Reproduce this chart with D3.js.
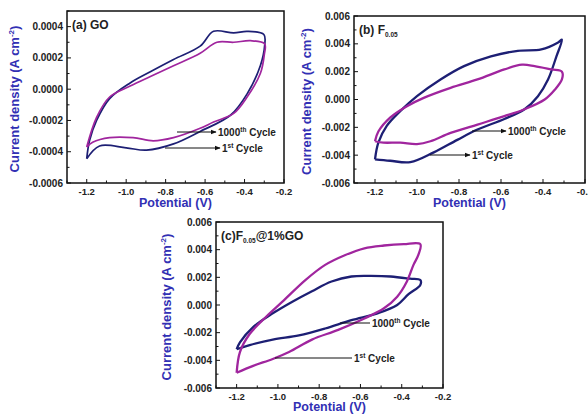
<!DOCTYPE html>
<html>
<head>
<meta charset="UTF-8">
<script src="https://d3js.org/d3.v7.min.js"></script>
<style>
  body { margin: 0; background: #fff; }
  svg { display: block; }
  text { font-family: "Liberation Sans", Arial, sans-serif; font-weight: bold; }
</style>
</head>
<body>
<svg id="chart" width="588" height="414"></svg>
<script>
// --- data: [potential V, current density A cm^-2] ---
const xTicks = [-1.2, -1.0, -0.8, -0.6, -0.4, -0.2];
const goTicks = [-0.0006, -0.0004, -0.0002, 0.0, 0.0002, 0.0004];
const fTicks = [-0.006, -0.004, -0.002, 0.0, 0.002, 0.004, 0.006];

// (a) GO
const goCycle1 = [[-1.2,-0.000445],[-1.186,-0.00033],[-1.15,-0.0002],[-1.084,-0.00006],[-0.98,0.00004],
  [-0.88,0.00011],[-0.76,0.00019],[-0.625,0.000275],[-0.557,0.00037],[-0.455,0.00036],[-0.387,0.00037],
  [-0.302,0.00035],[-0.298,0.00028],[-0.32,0.00015],[-0.387,-0.00003],[-0.47,-0.000165],[-0.625,-0.00027],
  [-0.76,-0.00035],[-0.897,-0.00039],[-1.0,-0.000375],[-1.135,-0.000363],[-1.2,-0.000445]];
const goCycle1000 = [[-1.2,-0.00037],[-1.15,-0.00018],[-1.084,-0.00005],[-0.98,0.00002],[-0.88,0.00008],
  [-0.76,0.00015],[-0.625,0.00023],[-0.54,0.0003],[-0.455,0.0003],[-0.37,0.00031],[-0.298,0.00029],
  [-0.3,0.00022],[-0.32,0.0001],[-0.387,-0.00005],[-0.455,-0.000155],[-0.557,-0.00021],[-0.625,-0.00025],
  [-0.76,-0.00031],[-0.863,-0.00033],[-0.965,-0.00031],[-1.084,-0.00031],[-1.17,-0.00034],[-1.2,-0.00037]];

// (b) F0.05
const fCycle1 = [[-1.2,-0.0043],[-1.184,-0.0031],[-1.144,-0.0019],[-1.08,-0.00084],[-1.0,0.00024],
  [-0.888,0.00144],[-0.776,0.0024],[-0.648,0.0031],[-0.52,0.0035],[-0.408,0.0036],[-0.328,0.0041],
  [-0.31,0.0043],[-0.336,0.0031],[-0.376,0.00144],[-0.424,0.00024],[-0.488,-0.0007],[-0.584,-0.0014],
  [-0.712,-0.00216],[-0.808,-0.0029],[-0.92,-0.0038],[-1.032,-0.0045],[-1.128,-0.0044],[-1.2,-0.0043]];
const fCycle1000 = [[-1.2,-0.003],[-1.184,-0.0023],[-1.128,-0.0013],[-1.048,-0.00048],[-0.968,0.00012],
  [-0.84,0.00084],[-0.712,0.00144],[-0.584,0.00216],[-0.5,0.0025],[-0.44,0.0024],[-0.36,0.00216],
  [-0.31,0.002],[-0.31,0.00144],[-0.344,0.0007],[-0.392,0.0],[-0.488,-0.0007],[-0.584,-0.0012],
  [-0.712,-0.0018],[-0.84,-0.0024],[-0.936,-0.003],[-1.0,-0.0032],[-1.08,-0.0031],[-1.16,-0.0031],
  [-1.2,-0.003]];

// (c) F0.05@1%GO
const fgCycle1 = [[-1.2,-0.0049],[-1.184,-0.0034],[-1.137,-0.0021],[-1.057,-0.00085],[-0.978,0.00024],
  [-0.867,0.0018],[-0.771,0.0029],[-0.676,0.0036],[-0.581,0.0041],[-0.486,0.0043],[-0.39,0.0044],
  [-0.31,0.0044],[-0.32,0.0036],[-0.343,0.0029],[-0.375,0.0017],[-0.422,0.0006],[-0.486,-0.00024],
  [-0.581,-0.00097],[-0.708,-0.0018],[-0.835,-0.0025],[-0.946,-0.0034],[-1.025,-0.0039],
  [-1.12,-0.0044],[-1.2,-0.0049]];
const fgCycle1000 = [[-1.2,-0.0032],[-1.184,-0.0027],[-1.12,-0.0016],[-1.025,-0.0006],[-0.93,0.00024],
  [-0.835,0.001],[-0.74,0.0017],[-0.644,0.00206],[-0.549,0.0021],[-0.454,0.00206],[-0.359,0.0019],
  [-0.31,0.0018],[-0.31,0.00145],[-0.367,0.00078],[-0.422,0.0],[-0.517,-0.0006],[-0.644,-0.0011],
  [-0.771,-0.0017],[-0.898,-0.0022],[-1.025,-0.0025],[-1.137,-0.0029],[-1.2,-0.0032]];

const navy = "#1d1f74";
const purple = "#a0259e";
const titleBlue = "#3230b4";

const svg = d3.select("#chart");
const defs = svg.append("defs");
defs.append("marker").attr("id", "arr")
  .attr("viewBox", "0 0 10 10").attr("refX", 9).attr("refY", 5)
  .attr("markerWidth", 6).attr("markerHeight", 6).attr("orient", "auto")
  .append("path").attr("d", "M0,1 L10,5 L0,9 Z").attr("fill", "#111");

function panel(cfg) {
  const g = svg.append("g");
  const x = d3.scaleLinear().domain([-1.3, -0.2]).range([cfg.left, cfg.right]);
  const y = d3.scaleLinear().domain(cfg.yDomain).range([cfg.bottom, cfg.top]);

  // inward ticks, major + minor
  const xMinor = d3.range(-1.3, -0.19, 0.1).map(v => +v.toFixed(2));
  g.selectAll(".xm").data(xMinor).join("line")
    .attr("x1", d => x(d)).attr("x2", d => x(d))
    .attr("y1", cfg.bottom).attr("y2", d => cfg.bottom - (xTicks.some(t => Math.abs(t - d) < 1e-6) ? 4 : 2.5))
    .attr("stroke", "#111").attr("stroke-width", 1);
  const yStep = (cfg.yTicks[1] - cfg.yTicks[0]) / 2;
  const yMinor = d3.range(cfg.yDomain[0], cfg.yDomain[1] + yStep / 2, yStep);
  g.selectAll(".ym").data(yMinor).join("line")
    .attr("x1", cfg.left).attr("x2", (d, i) => cfg.left + (i % 2 === 0 ? 4 : 2.5))
    .attr("y1", d => y(d)).attr("y2", d => y(d))
    .attr("stroke", "#111").attr("stroke-width", 1);

  // tick labels
  g.selectAll(".xl").data(xTicks).join("text")
    .attr("x", d => x(d)).attr("y", cfg.bottom + 11.5)
    .attr("text-anchor", "middle").attr("font-size", 9.5).attr("fill", "#222")
    .text(d => d.toFixed(1));
  g.selectAll(".yl").data(cfg.yTicks).join("text")
    .attr("x", cfg.left - 4).attr("y", d => y(d) + 3.5)
    .attr("text-anchor", "end").attr("font-size", 10).attr("fill", "#222")
    .text(d => d.toFixed(cfg.dec));

  // curves
  const line = d3.line().x(d => x(d[0])).y(d => y(d[1])).curve(d3.curveCatmullRom.alpha(0.5));
  cfg.series.forEach(s => {
    g.append("path").datum(s.data).attr("d", line)
      .attr("fill", "none").attr("stroke", s.color).attr("stroke-width", cfg.sw)
      .attr("stroke-linejoin", "round");
  });

  // frame
  g.append("rect").attr("x", cfg.left).attr("y", cfg.top)
    .attr("width", cfg.right - cfg.left).attr("height", cfg.bottom - cfg.top)
    .attr("fill", "none").attr("stroke", "#111").attr("stroke-width", 1.5);

  // axis titles
  g.append("text").attr("x", (cfg.left + cfg.right) / 2).attr("y", cfg.bottom + cfg.xTitleDy)
    .attr("text-anchor", "middle").attr("font-size", 12.5).attr("fill", titleBlue)
    .text("Potential (V)");
  const yt = g.append("text")
    .attr("transform", `translate(${cfg.yTitleX},${(cfg.top + cfg.bottom) / 2 + 2}) rotate(-90)`)
    .attr("text-anchor", "middle").attr("font-size", 13).attr("fill", titleBlue);
  yt.append("tspan").text("Current density (A cm");
  yt.append("tspan").attr("font-size", 8).attr("dy", -5).text("-2");
  yt.append("tspan").attr("dy", 5).text(")");

  // panel label
  const pl = g.append("text").attr("x", cfg.left + 5).attr("y", cfg.top + 18)
    .attr("font-size", 12).attr("fill", "#222");
  cfg.label.forEach(p => {
    const t = pl.append("tspan").text(p.t);
    if (p.sub) t.attr("font-size", 6.5).attr("dy", 3);
    if (p.back) t.attr("dy", -3);
  });

  // annotations
  cfg.notes.forEach(n => {
    g.append("line").attr("x1", n.x1).attr("x2", n.x2).attr("y1", n.y).attr("y2", n.y)
      .attr("stroke", "#111").attr("stroke-width", 1)
      .attr("marker-end", cfg.arrow ? "url(#arr)" : null);
    const t = g.append("text").attr("x", n.x2 + 2).attr("y", n.y + 4)
      .attr("font-size", 10).attr("fill", "#222");
    t.append("tspan").text(n.num);
    t.append("tspan").attr("font-size", 6.5).attr("dy", -4).text(n.sup);
    t.append("tspan").attr("dy", 4).text(" Cycle");
  });
}

panel({
  left: 67, right: 284, top: 11, bottom: 183, yDomain: [-0.0006, 0.0005],
  yTicks: goTicks, dec: 4, sw: 1.7, yTitleX: 19, xTitleDy: 24, arrow: true,
  label: [{t: "(a) GO"}],
  series: [{data: goCycle1, color: navy}, {data: goCycle1000, color: purple}],
  notes: [{x1: 177, x2: 216, y: 132, num: "1000", sup: "th"},
          {x1: 165, x2: 220, y: 148, num: "1", sup: "st"}]
});

panel({
  left: 354, right: 585, top: 16, bottom: 183, yDomain: [-0.006, 0.006],
  yTicks: fTicks, dec: 3, sw: 2.3, yTitleX: 311, xTitleDy: 24, arrow: true,
  label: [{t: "(b) F"}, {t: "0.05", sub: true}],
  series: [{data: fCycle1, color: navy}, {data: fCycle1000, color: purple}],
  notes: [{x1: 472, x2: 506, y: 131, num: "1000", sup: "th"},
          {x1: 430, x2: 470, y: 155, num: "1", sup: "st"}]
});

panel({
  left: 216, right: 443, top: 222, bottom: 388, yDomain: [-0.006, 0.006],
  yTicks: fTicks, dec: 3, sw: 2.3, yTitleX: 171, xTitleDy: 23, arrow: false,
  label: [{t: "(c)F"}, {t: "0.05", sub: true}, {t: "@1%GO", back: true}],
  series: [{data: fgCycle1000, color: navy}, {data: fgCycle1, color: purple}],
  notes: [{x1: 340, x2: 370, y: 323, num: "1000", sup: "th"},
          {x1: 275, x2: 352, y: 358, num: "1", sup: "st"}]
});
</script>
</body>
</html>
